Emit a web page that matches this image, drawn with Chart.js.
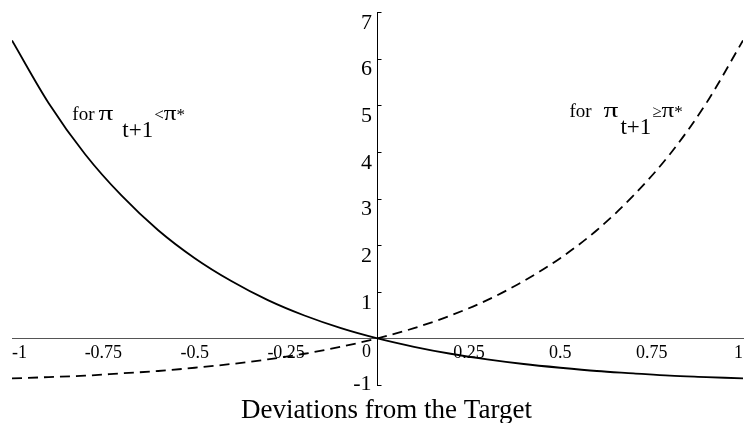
<!DOCTYPE html>
<html>
<head>
<meta charset="utf-8">
<script src="https://cdn.jsdelivr.net/npm/chart.js@4.4.1/dist/chart.umd.min.js"></script>
<style>
  html, body { margin: 0; padding: 0; background: #fff; }
  #wrap { width: 747px; height: 423px; }
</style>
</head>
<body>
<div id="wrap"><canvas id="lossChart"></canvas></div>
<script>
// deviations from target (x) and the two loss branches
const deviations = [-1, -0.9, -0.8, -0.7, -0.6, -0.5, -0.4, -0.3, -0.2, -0.1, 0,
                    0.1, 0.2, 0.3, 0.4, 0.5, 0.6, 0.7, 0.8, 0.9, 1];
const belowTarget = [6.39, 5.05, 3.95, 3.06, 2.32, 1.72, 1.23, 0.82, 0.49, 0.22, 0,
                     -0.18, -0.33, -0.45, -0.55, -0.63, -0.70, -0.75, -0.80, -0.83, -0.86];
const aboveTarget = [-0.86, -0.83, -0.80, -0.75, -0.70, -0.63, -0.55, -0.45, -0.33, -0.18, 0,
                     0.22, 0.49, 0.82, 1.23, 1.72, 2.32, 3.06, 3.95, 5.05, 6.39];
const xTicks = [-1, -0.75, -0.5, -0.25, 0, 0.25, 0.5, 0.75, 1];
const yTicks = [-1, 0, 1, 2, 3, 4, 5, 6, 7];
const xTitle = "Deviations from the Target";

const serif = "'Liberation Serif', 'Times New Roman', serif";

function pts(ys) {
  return deviations.map((x, i) => ({ x: x, y: ys[i] }));
}

// draws text stretched sideways, returns its drawn width
function wideText(ctx, s, x, y, sx) {
  ctx.save();
  ctx.translate(x, y);
  ctx.scale(sx, 1);
  ctx.fillText(s, 0, 0);
  ctx.restore();
  return ctx.measureText(s).width * sx;
}

// writes "for π_{t+1} <π*" style labels
function drawLabel(ctx, x, y, gap, subGap, rel) {
  ctx.save();
  ctx.fillStyle = "#000";
  ctx.textBaseline = "alphabetic";
  ctx.textAlign = "left";
  ctx.font = "19px " + serif;
  ctx.fillText("for", x, y);
  let cx = x + ctx.measureText("for").width + gap;
  ctx.font = "21px " + serif;
  cx += wideText(ctx, "\u03C0", cx, y, 1.4) + subGap;
  ctx.font = "23px " + serif;
  ctx.fillText("t+1", cx, y + 17);
  cx += ctx.measureText("t+1").width + 1;
  ctx.font = "17px " + serif;
  ctx.fillText(rel, cx, y);
  cx += ctx.measureText(rel).width;
  ctx.font = "21px " + serif;
  cx += wideText(ctx, "\u03C0", cx, y, 1.2);
  ctx.font = "17px " + serif;
  ctx.fillText("*", cx, y);
  ctx.restore();
}

const labelPlugin = {
  id: "labels",
  afterDraw(chart) {
    const ctx = chart.ctx;
    const xs = chart.scales.x;
    const ys = chart.scales.y;
    const x0 = xs.getPixelForValue(0);
    drawLabel(ctx, xs.getPixelForValue(-0.835), ys.getPixelForValue(4.69), 4, 9, "<");
    drawLabel(ctx, xs.getPixelForValue(0.525), ys.getPixelForValue(4.75), 12, 2, "\u2265");
    ctx.save();
    // small tick marks to the right of the vertical axis
    ctx.strokeStyle = "#000";
    ctx.lineWidth = 1;
    ctx.beginPath();
    yTicks.forEach((v) => {
      if (v === 0) return;
      const py = Math.round(ys.getPixelForValue(v)) + 0.5;
      ctx.moveTo(x0, py);
      ctx.lineTo(x0 + 4, py);
    });
    ctx.stroke();
    ctx.fillStyle = "#000";
    // origin label sits below-left of the crossing
    ctx.font = "18px " + serif;
    ctx.textAlign = "center";
    ctx.textBaseline = "middle";
    ctx.fillText("0", x0 - 11, ys.getPixelForValue(0) + 14);
    // bottom y label sits level with its tick
    ctx.font = "22px " + serif;
    ctx.textAlign = "right";
    ctx.fillText("-1", x0 - 6, ys.getPixelForValue(-1) - 1);
    // axis title
    ctx.font = "27px " + serif;
    ctx.textAlign = "center";
    ctx.textBaseline = "alphabetic";
    ctx.fillText(xTitle, x0 + 9, 418);
    ctx.restore();
  },
};

new Chart(document.getElementById("lossChart").getContext("2d"), {
  type: "scatter",
  data: {
    datasets: [
      {
        label: "below target",
        data: pts(belowTarget),
        showLine: true,
        borderColor: "#000",
        borderWidth: 1.8,
        pointRadius: 0,
        cubicInterpolationMode: "monotone",
      },
      {
        label: "above target",
        data: pts(aboveTarget),
        showLine: true,
        borderColor: "#000",
        borderWidth: 1.8,
        borderDash: [10, 6],
        pointRadius: 0,
        cubicInterpolationMode: "monotone",
      },
    ],
  },
  options: {
    responsive: true,
    maintainAspectRatio: false,
    animation: false,
    layout: { padding: { left: 12, right: 2, top: 12, bottom: 38 } },
    plugins: {
      legend: { display: false },
      tooltip: { enabled: false },
    },
    scales: {
      x: {
        type: "linear",
        min: -1,
        max: 1,
        position: { y: 0 },
        afterBuildTicks: (axis) => { axis.ticks = xTicks.map((v) => ({ value: v })); },
        ticks: {
          color: "#000",
          font: { family: serif, size: 18 },
          padding: 4,
          align: "inner",
          maxRotation: 0,
          autoSkip: false,
          callback: (v) => (v === 0 ? "" : String(v)),
        },
        grid: { drawOnChartArea: false, drawTicks: false },
        border: { color: "#555", width: 1 },
      },
      y: {
        type: "linear",
        min: -1,
        max: 7,
        position: { x: 0 },
        afterBuildTicks: (axis) => { axis.ticks = yTicks.map((v) => ({ value: v })); },
        ticks: {
          color: "#000",
          font: { family: serif, size: 22 },
          padding: 6,
          align: "start",
          autoSkip: false,
          // trailing space keeps the numbers clear of the axis line
          callback: (v) => (v === 0 || v === -1 ? "" : String(v) + " "),
        },
        grid: { drawOnChartArea: false, drawTicks: false },
        border: { color: "#000", width: 1 },
      },
    },
  },
  plugins: [labelPlugin],
});
</script>
</body>
</html>
